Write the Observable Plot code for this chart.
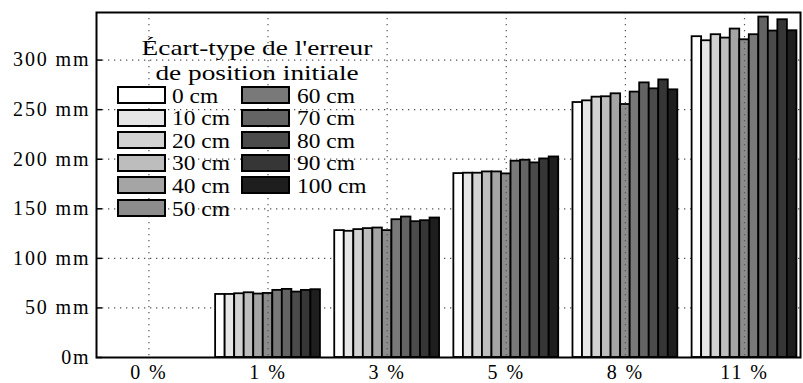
<!DOCTYPE html>
<html><head><meta charset="utf-8">
<script src="https://cdn.jsdelivr.net/npm/d3@7"></script>
<script src="https://cdn.jsdelivr.net/npm/@observablehq/plot@0.6"></script>
<style>
body{margin:0;background:#fff;font-family:'Liberation Serif';}
#wrap{position:relative;width:803px;height:383px;overflow:hidden;}
#legend{position:absolute;left:0;top:0;width:0;height:0;font-size:20px;color:#000;}
#legend .t{position:absolute;white-space:nowrap;line-height:20px;transform:scaleX(1.17);transform-origin:left center;}
#legend .tc{position:absolute;white-space:nowrap;line-height:20px;font-size:21px;text-align:center;transform:scaleX(1.3);transform-origin:center center;}
#legend .sw{position:absolute;box-sizing:border-box;border:2px solid #000;width:49px;height:18px;}
</style></head><body><div id="wrap"></div>
<script>
const groups = ["0 %", "1 %", "3 %", "5 %", "8 %", "11 %"];
const series = ["0 cm", "10 cm", "20 cm", "30 cm", "40 cm", "50 cm", "60 cm", "70 cm", "80 cm", "90 cm", "100 cm"];
const grays = ["#ffffff", "#e6e6e6", "#d2d2d2", "#bdbdbd", "#a5a5a5", "#8c8c8c", "#797979", "#646464", "#4b4b4b", "#363636", "#1e1e1e"];
const v0 = [0, 0, 0, 0, 0, 0, 0, 0, 0, 0, 0];
const v1 = [63.6, 63.6, 64.3, 65.3, 64, 64.6, 67.7, 68.7, 66, 67.7, 68.4];
const v3 = [128, 127.3, 129, 130, 130.6, 128, 139, 141.7, 137, 138, 140.7];
const v5 = [185.5, 185.9, 185.9, 187.2, 187.2, 185.2, 198, 199, 196.3, 200.3, 202.3];
const v8 = [257.2, 258.9, 262.6, 263, 266, 255.2, 267.7, 277, 271, 280, 270];
const v11 = [323.6, 319.5, 325.6, 322.2, 331.3, 320.5, 325.6, 343.4, 329.3, 340.7, 329.6];
const yTicks = [0, 50, 100, 150, 200, 250, 300];
const legendTitle = ["Écart-type de l'erreur", "de position initiale"];

const FONT = "'Liberation Serif'";
const groupValues = [v0, v1, v3, v5, v8, v11];
const data = [];
groupValues.forEach((vals, gi) => vals.forEach((v, si) => data.push({gi, si, group: groups[gi], series: series[si], value: v})));
const barW = 0.08;

const dotted = {stroke: "#555", strokeOpacity: 1, strokeWidth: 1.2, strokeDasharray: "1.3,4.7"};

const plot = Plot.plot({
  width: 803, height: 383,
  marginLeft: 96, marginRight: 3, marginTop: 12, marginBottom: 26,
  x: {domain: [-0.44, 5.47]},
  y: {domain: [0, 348]},
  color: {domain: series, range: grays},
  style: {fontFamily: FONT, fontSize: "20px", letterSpacing: "1.9px", background: "white", color: "black"},
  marks: [
    Plot.gridY(yTicks.filter(d => d > 0), dotted),
    Plot.rect(data, {
      x1: d => d.gi + (d.si - 5.5) * barW,
      x2: d => d.gi + (d.si - 4.5) * barW,
      y1: 0, y2: "value",
      fill: "series", stroke: "black", strokeWidth: 1.8
    }),
    Plot.gridX(d3.range(groups.length), dotted),
    Plot.axisX(d3.range(groups.length), {tickSize: 0, tickPadding: 7, tickFormat: i => groups[i], label: null, fontSize: 20}),
    Plot.axisY(yTicks, {tickSize: -6, tickPadding: 12, strokeWidth: 1.5, tickFormat: d => d === 0 ? "0m" : d + " mm", label: null, fontSize: 20}),
    Plot.frame({stroke: "black", strokeWidth: 2})
  ]
});
plot.setAttribute("font-family", FONT);
d3.select(plot).selectAll("text").style("font-family", FONT).attr("font-family", FONT);

const wrap = document.getElementById("wrap");
wrap.appendChild(plot);

const legend = document.createElement("div");
legend.id = "legend";
legend.style.fontFamily = FONT;
const base = 17.3;
legendTitle.forEach((line, k) => {
  const el = document.createElement("div");
  el.className = "tc";
  el.textContent = line;
  el.style.fontFamily = FONT;
  el.style.left = "137px";
  el.style.width = "240px";
  el.style.top = ([55, 80][k] - base) + "px";
  legend.appendChild(el);
});
series.forEach((s, i) => {
  const col = i < 6 ? 0 : 1;
  const row = i < 6 ? i : i - 6;
  const sw = document.createElement("div");
  sw.className = "sw";
  sw.style.left = (col ? 241 : 117) + "px";
  sw.style.top = (86 + row * 22.6) + "px";
  sw.style.background = grays[i];
  legend.appendChild(sw);
  const t = document.createElement("div");
  t.className = "t";
  t.textContent = s;
  t.style.fontFamily = FONT;
  t.style.left = (col ? 297 : 172) + "px";
  t.style.top = (102.3 + row * 22.6 - 16.75) + "px";
  legend.appendChild(t);
});
wrap.appendChild(legend);
</script>
</body></html>
